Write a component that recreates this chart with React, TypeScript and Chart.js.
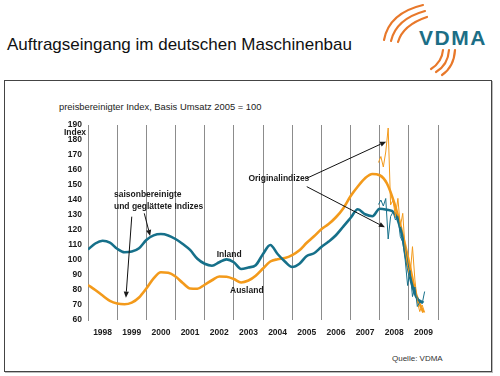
import React, { useEffect, useRef } from 'react';
import { Chart, registerables } from 'chart.js';

Chart.register(...registerables);

const FONT = "'Liberation Sans', Arial, Helvetica, sans-serif";

// x-axis year labels (one per year span)
const yearLabels = ['1998', '1999', '2000', '2001', '2002', '2003', '2004', '2005', '2006', '2007', '2008', '2009'];

// quarterly sampling times of the smoothed indices
const smoothTimes = [
  1998, 1998.25, 1998.5, 1998.75, 1999, 1999.25, 1999.5, 1999.75,
  2000, 2000.25, 2000.5, 2000.75, 2001, 2001.25, 2001.5, 2001.75,
  2002, 2002.25, 2002.5, 2002.75, 2003, 2003.25, 2003.5, 2003.75,
  2004, 2004.25, 2004.5, 2004.75, 2005, 2005.25, 2005.5, 2005.75,
  2006, 2006.25, 2006.5, 2006.75, 2007, 2007.25, 2007.5, 2007.75,
  2008, 2008.25, 2008.5, 2008.75, 2009, 2009.25, 2009.5,
];

// saisonbereinigte und geglättete Indizes
const inlandSmooth = [
  107, 111, 112.8, 111.6, 107.5, 105.2, 105.6, 107.8,
  113.3, 116.4, 117.3, 116.4, 114, 110.7, 106.7, 100.8,
  97.5, 96.2, 98.5, 100.4, 98.5, 94, 95, 96.5,
  104, 110, 104, 99, 95.3, 97.5, 102.7, 104.5,
  108.7, 112.3, 116.5, 122.2, 128, 133.8, 130.5, 129.2,
  134.2, 133.5, 131.5, 118, 92, 75.5, 71.5,
];
const auslandSmooth = [
  83.3, 80, 76.3, 72.8, 71, 70.5, 71.6, 75,
  81, 87.8, 91.8, 91.5, 89, 84.7, 81, 80.8,
  83.5, 86.5, 89, 88.8, 87.3, 85, 86.3, 89.5,
  94.3, 99, 100.5, 101.3, 103.3, 106.5, 111.5, 115.8,
  120.5, 124, 128.5, 134.4, 142.5, 149, 154.5, 157.3,
  156.5, 151, 138, 120, 99, 77, 65,
];

// Originalindizes (monthly)
const originalMonths = [
  '2007-12', '2008-01', '2008-02', '2008-03', '2008-04', '2008-05', '2008-06', '2008-07',
  '2008-08', '2008-09', '2008-10', '2008-11', '2008-12', '2009-01', '2009-02', '2009-03',
  '2009-04', '2009-05', '2009-06', '2009-07',
];
const inlandOriginal = [
  137, 140, 136, 141, 114, 129, 132, 126.7,
  129, 115.6, 112, 100, 83, 93, 75.6, 82,
  69, 72, 71, 79,
];
const auslandOriginal = [
  165, 169, 162, 172, 188, 136.7, 140, 128.9,
  141.1, 122.2, 131.1, 106.7, 95.6, 88.9, 108.9, 86.7,
  72.2, 65.6, 70, 65,
];

const Y_MIN = 60;
const Y_MAX = 190;
const X_MIN = 1998;
const X_MAX = 2010;

const TEAL = '#16708a';
const ORANGE = '#f39a1b';

const monthToT = (m: string) => {
  const [yy, mm] = m.split('-').map(Number);
  return yy + (mm - 0.5) / 12;
};

const annotationPlugin = {
  id: 'vdmaAnnotations',
  afterDraw(chart: any) {
    const { ctx } = chart;
    const x = chart.scales.x;
    const y = chart.scales.y;
    const px = (t: number) => x.getPixelForValue(t);
    const py = (v: number) => y.getPixelForValue(v);
    ctx.save();
    ctx.fillStyle = '#1a1a1a';
    ctx.textBaseline = 'middle';

    // "Index" under the top tick
    ctx.font = `bold 8.5px ${FONT}`;
    ctx.textAlign = 'center';
    ctx.fillText('Index', y.right - 13, py(184.9));

    ctx.textAlign = 'left';
    const notes: [string, number, number][] = [
      ['saisonbereinigte', 1998.89, 143.3],
      ['und geglättete Indizes', 1998.89, 135.7],
      ['Inland', 2002.41, 103.3],
      ['Ausland', 2002.87, 79.3],
      ['Originalindizes', 2003.5, 154],
    ];
    notes.forEach(([s, t, v]) => ctx.fillText(s, px(t), py(v)));

    const arrows: [number, number, number, number][] = [
      [1999.5, 128.9, 1999.3, 74.9],
      [1999.93, 131.1, 2000.13, 116],
      [2005.5, 154.5, 2008.22, 178.9],
      [2005.5, 148.9, 2008.18, 121.8],
    ];
    ctx.strokeStyle = '#111';
    ctx.lineWidth = 1;
    arrows.forEach(([t0, v0, t1, v1]) => {
      const x0 = px(t0), y0 = py(v0), x1 = px(t1), y1 = py(v1);
      const ang = Math.atan2(y1 - y0, x1 - x0);
      const hl = 6, hw = 2.6;
      const bx = x1 - hl * Math.cos(ang), by = y1 - hl * Math.sin(ang);
      ctx.beginPath();
      ctx.moveTo(x0, y0);
      ctx.lineTo(bx, by);
      ctx.stroke();
      ctx.beginPath();
      ctx.moveTo(x1, y1);
      ctx.lineTo(bx + hw * Math.sin(ang), by - hw * Math.cos(ang));
      ctx.lineTo(bx - hw * Math.sin(ang), by + hw * Math.cos(ang));
      ctx.closePath();
      ctx.fill();
    });
    ctx.restore();
  },
};

export default function App() {
  const ref = useRef<HTMLCanvasElement | null>(null);

  useEffect(() => {
    if (!ref.current) return;
    const toPts = (ts: number[], vs: number[]) => ts.map((t, i) => ({ x: t, y: vs[i] }));
    const origT = originalMonths.map(monthToT);
    const chart = new Chart(ref.current, {
      type: 'line',
      data: {
        datasets: [
          {
            label: 'Inland Original',
            data: toPts(origT, inlandOriginal),
            borderColor: TEAL,
            borderWidth: 1,
            pointRadius: 0,
            tension: 0,
          },
          {
            label: 'Ausland Original',
            data: toPts(origT, auslandOriginal),
            borderColor: ORANGE,
            borderWidth: 1,
            pointRadius: 0,
            tension: 0,
          },
          {
            label: 'Inland',
            data: toPts(smoothTimes, inlandSmooth),
            borderColor: TEAL,
            borderWidth: 2.6,
            pointRadius: 0,
            cubicInterpolationMode: 'monotone',
          },
          {
            label: 'Ausland',
            data: toPts(smoothTimes, auslandSmooth),
            borderColor: ORANGE,
            borderWidth: 2.6,
            pointRadius: 0,
            cubicInterpolationMode: 'monotone',
          },
        ],
      },
      options: {
        responsive: false,
        animation: false,
        events: [],
        layout: { padding: { left: 0, right: 62, top: 125, bottom: 26 } },
        plugins: { legend: { display: false }, tooltip: { enabled: false } },
        scales: {
          x: {
            type: 'linear',
            min: X_MIN,
            max: X_MAX,
            afterFit: (s: any) => { s.height = 30; },
            border: { display: false },
            grid: {
              drawTicks: false,
              lineWidth: 1,
              color: (c: any) => (c.tick && Math.abs(c.tick.value % 1) < 1e-6 ? '#8c8c8c' : 'rgba(0,0,0,0)'),
            },
            ticks: {
              stepSize: 0.5,
              maxTicksLimit: 100,
              autoSkip: false,
              maxRotation: 0,
              padding: 8,
              color: '#1a1a1a',
              font: { family: FONT, size: 8.5, weight: 'bold' },
              callback: (v: any) => {
                const n = Number(v);
                if (Math.abs(n % 1 - 0.5) < 1e-6) return yearLabels[Math.floor(n) - X_MIN] ?? '';
                return '';
              },
            },
          },
          y: {
            type: 'linear',
            min: Y_MIN,
            max: Y_MAX,
            afterFit: (s: any) => { s.width = 88; },
            border: { display: true, color: '#8c8c8c', width: 1 },
            grid: { display: false, drawTicks: false },
            ticks: {
              stepSize: 10,
              maxTicksLimit: 100,
              padding: 6,
              color: '#1a1a1a',
              font: { family: FONT, size: 8.5, weight: 'bold' },
            },
          },
        },
      } as any,
      plugins: [annotationPlugin],
    });
    return () => chart.destroy();
  }, []);

  return (
    <div style={{ position: 'absolute', left: 0, top: 0, width: 500, height: 376, background: '#fff', overflow: 'hidden', fontFamily: FONT }}>
      <div style={{ position: 'absolute', left: 7, top: 35, fontSize: 17, color: '#111', whiteSpace: 'nowrap', lineHeight: '20px' }}>
        Auftragseingang im deutschen Maschinenbau
      </div>
      <svg width={500} height={80} style={{ position: 'absolute', left: 0, top: 0 }}>
        <g fill="none" stroke="#e8782a" strokeLinecap="round" strokeWidth={2.2}>
          <path d="M 384 40 Q 389 13 423 5" />
          <path d="M 391 41 Q 396 19 425 11" />
          <path d="M 398 42 Q 403 25 427 17" />
          <path d="M 443 50 Q 442 62 431 69" />
          <path d="M 449 50 Q 448 65 436 72" />
          <path d="M 455 50 Q 454 67 442 75" />
        </g>
      </svg>
      <div style={{ position: 'absolute', left: 419, top: 26, fontSize: 21, fontWeight: 'bold', color: '#1c6e86', letterSpacing: 1.5, lineHeight: '24px' }}>
        VDMA
      </div>
      <div style={{ position: 'absolute', left: 4, top: 80, width: 486, height: 290, border: '1px solid #444', boxShadow: '1px 1px 0 #bbb' }} />
      <div style={{ position: 'absolute', left: 59, top: 101, fontSize: 9.4, color: '#222', whiteSpace: 'nowrap', lineHeight: '12px' }}>
        preisbereinigter Index, Basis Umsatz 2005 = 100
      </div>
      <div style={{ position: 'absolute', left: 392, top: 353, fontSize: 8, color: '#333', whiteSpace: 'nowrap', lineHeight: '11px' }}>
        Quelle: VDMA
      </div>
      <canvas ref={ref} width={500} height={376} style={{ position: 'absolute', left: 0, top: 0 }} />
    </div>
  );
}
